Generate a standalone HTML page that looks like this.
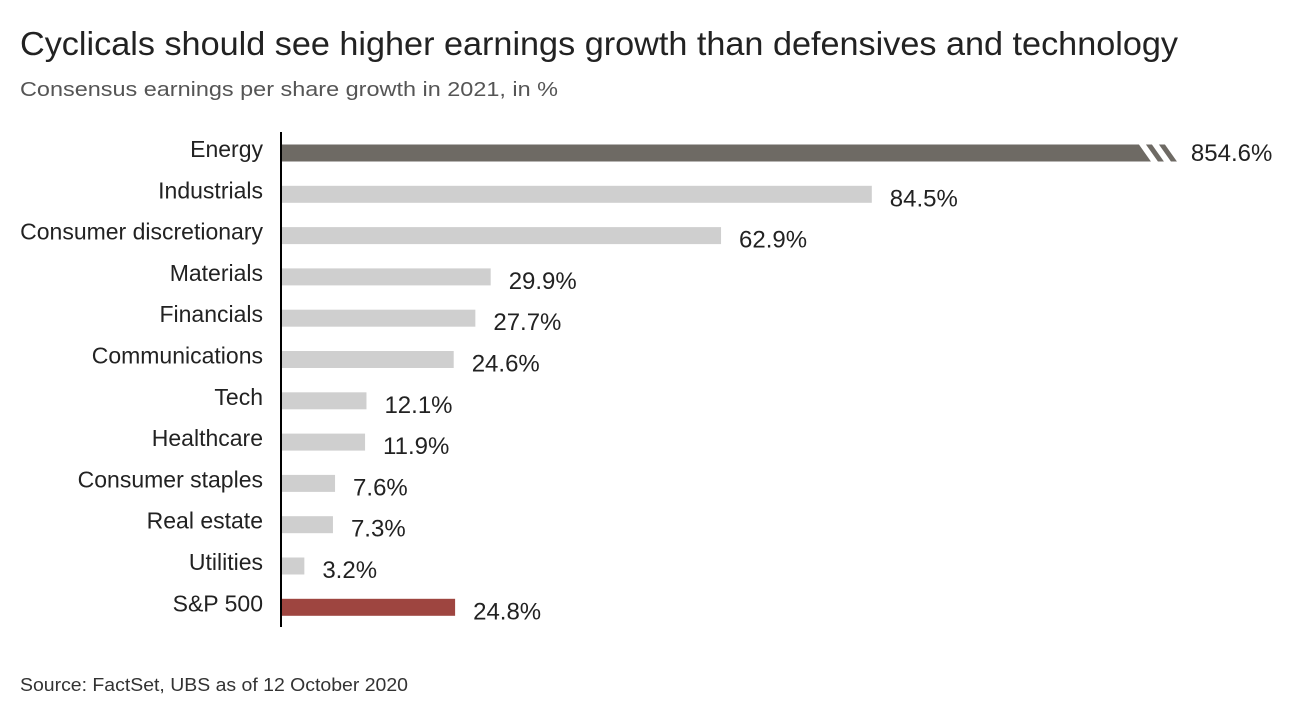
<!DOCTYPE html>
<html><head><meta charset="utf-8"><style>
body{margin:0;background:#fff;width:1293px;height:701px;overflow:hidden;font-family:"Liberation Sans",sans-serif}
</style></head><body>
<svg width="1293" height="701">
<text x="20" y="55" font-size="33" fill="#222" textLength="1158" lengthAdjust="spacingAndGlyphs">Cyclicals should see higher earnings growth than defensives and technology</text>
<text x="20" y="96" font-size="20" fill="#555" textLength="538" lengthAdjust="spacingAndGlyphs">Consensus earnings per share growth in 2021, in %</text>
<g id="bars"></g>
<line x1="281" y1="132" x2="281" y2="627" stroke="#000" stroke-width="2"/>
<text x="20" y="691" font-size="18" fill="#333" textLength="388" lengthAdjust="spacingAndGlyphs">Source: FactSet, UBS as of 12 October 2020</text>
</svg>
<script>
const categories=["Energy","Industrials","Consumer discretionary","Materials","Financials","Communications","Tech","Healthcare","Consumer staples","Real estate","Utilities","S&P 500"];
const values=[854.6,84.5,62.9,29.9,27.7,24.6,12.1,11.9,7.6,7.3,3.2,24.8];
const labels=["854.6%","84.5%","62.9%","29.9%","27.7%","24.6%","12.1%","11.9%","7.6%","7.3%","3.2%","24.8%"];
const cap=128.5;
const x0=282,k=6.98,y0=153,step=41.3,h=17;
const xs=v=>x0+Math.min(v,cap)*k;
const ys=i=>y0+i*step;
const g=document.getElementById('bars');
const NS='http://www.w3.org/2000/svg';
values.forEach((v,i)=>{
  const col=i==0?'#6e6a64':(i==11?'#9e4540':'#cfcfcf');
  const r=document.createElementNS(NS,'rect');
  r.setAttribute('x',x0);r.setAttribute('y',ys(i)-h/2);
  r.setAttribute('width',xs(v)-x0);r.setAttribute('height',h);r.setAttribute('fill',col);
  
  
  g.appendChild(r);
  if(v>cap){
    const e=xs(v);
    [[-40,-33],[-27,-20],[-14,0]].forEach(([a,b],j)=>{
      const p=document.createElementNS(NS,'polygon');
      const yt=ys(i)-h/2,yb=ys(i)+h/2;
      if(j<2)p.setAttribute('points',`${e+a},${yt} ${e+b},${yt} ${e+b+12},${yb} ${e+a+12},${yb}`);
      else p.setAttribute('points',`${e+a},${yt} ${e+2},${yt} ${e+2},${yb} ${e+a+12},${yb}`);
      p.setAttribute('fill','#fff');
      
      
      g.appendChild(p);
    });
  }
  const t=document.createElementNS(NS,'text');
  t.setAttribute('x',xs(v)+(v>cap?12:18));t.setAttribute('y',ys(i)+(v>cap?8:12));
  t.setAttribute('font-size','24');t.setAttribute('fill','#222');
  t.textContent=labels[i];
  
  
  g.appendChild(t);
  const c=document.createElementNS(NS,'text');
  c.setAttribute('x',263);c.setAttribute('y',ys(i)+4);
  c.setAttribute('font-size','23');c.setAttribute('fill','#222');c.setAttribute('text-anchor','end');
  c.textContent=categories[i];
  
  
  g.appendChild(c);
});
</script>
</body></html>
